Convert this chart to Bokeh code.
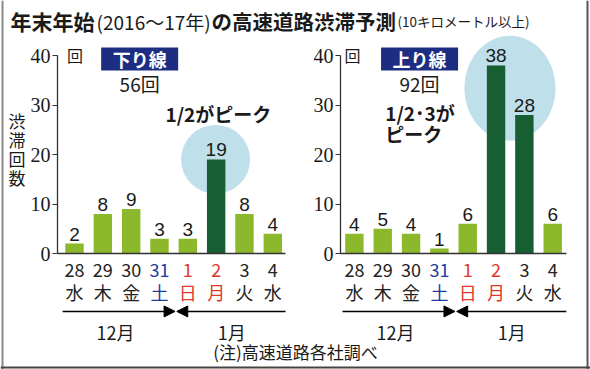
from bokeh.plotting import figure
from bokeh.models import Range1d, LinearAxis, FixedTicker, Arrow, NormalHead, Span
from bokeh.core.properties import value
from bokeh.embed import file_html
from bokeh.resources import INLINE
import numpy as np

# ---------------- data ----------------
dates = ["28", "29", "30", "31", "1", "2", "3", "4"]
weekdays = ["水", "木", "金", "土", "日", "月", "火", "水"]
day_kind = ["wd", "wd", "wd", "sat", "hol", "hol", "wd", "wd"]
months = ["12月", "1月"]
down_counts = [2, 8, 9, 3, 3, 19, 8, 4]
up_counts = [4, 5, 4, 1, 6, 38, 28, 6]
down_peak_dates = ["2"]
up_peak_dates = ["2", "3"]
y_ticks = [0, 10, 20, 30, 40]

# ---------------- styles ----------------
JP = "Noto Sans CJK JP"
NUM = "Liberation Sans Narrow"
LIGHT = "#8cb92b"
DARK = "#175e32"
NAVY = "#1c2d82"
CIRCLE = "#bfe0ea"
TXT = "#1a1a1a"
KIND_COLOR = {"wd": "#222222", "sat": "#1f3b9e", "hol": "#e0382d"}

X0, X1 = -74 / 28.33, (590 - 74) / 28.33
Y0, Y1 = -(369 - 253) / 4.95, 253 / 4.95

p = figure(width=590, height=369,
           x_range=Range1d(X0, X1), y_range=Range1d(Y0, Y1),
           x_axis_type=None, y_axis_type=None,
           toolbar_location=None, output_backend="svg", min_border=0)
p.outline_line_color = None
p.background_fill_color = "white"

# title pieces
title_y = 46.9
p.text(x=[-2.26], y=[title_y], text=["年末年始"], text_font=value(JP), text_font_style="bold",
       text_font_size="21px", text_baseline="middle", text_align="left", text_color=TXT)
p.text(x=[0.78], y=[title_y], text=["(2016～17年)"], text_font=value(JP),
       text_font_size="19px", text_baseline="middle", text_align="left", text_color=TXT)
p.text(x=[4.84], y=[title_y], text=["の高速道路渋滞予測"], text_font=value(JP), text_font_style="bold",
       text_font_size="20.5px", text_baseline="middle", text_align="left", text_color=TXT)
p.text(x=[11.40], y=[title_y], text=["(10キロメートル以上)"], text_font=value(JP),
       text_font_size="13.5px", text_baseline="middle", text_align="left", text_color=TXT)

panels = [
    dict(offset=0.0, counts=down_counts, peaks=down_peak_dates, name="下り線", axis_x=-0.6,
         ell=(4.98, 19.0, 69, 69), x_end=7.45, x_start=-0.42, unit_x=0.02),
    dict(offset=9.88, counts=up_counts, peaks=up_peak_dates, name="上り線", axis_x=9.39,
         ell=(15.37, 33.4, 91, 105), x_end=17.36, x_start=9.46, unit_x=9.81),
]

for pn in panels:
    off = pn["offset"]
    xs = np.arange(len(dates)) + off
    counts = pn["counts"]
    colors = [DARK if d in pn["peaks"] else LIGHT for d in dates]

    ex, ey, ew, eh = pn["ell"]
    p.ellipse(x=[ex], y=[ey], width=ew, height=eh, width_units="screen", height_units="screen",
              fill_color=CIRCLE, line_color=None)

    p.vbar(x=xs, top=counts, width=0.65, fill_color=colors, line_color=None)
    p.text(x=xs, y=counts, text=[str(c) for c in counts], text_align="center",
           text_baseline="bottom", y_offset=-3, text_font=value("Liberation Sans"),
           text_font_size="19px", text_color=TXT)

    # y axis
    ax = LinearAxis(fixed_location=pn["axis_x"], bounds=(0, 40), ticker=FixedTicker(ticks=y_ticks))
    ax.axis_line_color = "#333333"
    ax.axis_line_width = 1.3
    ax.major_tick_line_color = "#333333"
    ax.major_tick_out = 5
    ax.major_tick_in = 0
    ax.minor_tick_line_color = None
    ax.major_label_standoff = 2
    ax.major_label_text_font = NUM
    ax.major_label_text_font_size = "20px"
    ax.major_label_text_color = TXT
    p.add_layout(ax, "left")

    # x axis line
    bx = LinearAxis(fixed_location=0, bounds=(pn["axis_x"], pn["x_end"]), ticker=FixedTicker(ticks=[]))
    bx.axis_line_color = "#333333"
    bx.axis_line_width = 1.3
    bx.major_tick_line_color = None
    bx.minor_tick_line_color = None
    bx.major_label_text_font_size = "0px"
    p.add_layout(bx, "below")

    # unit label
    p.text(x=[pn["unit_x"]], y=[40.1], text=["回"], text_font=value(JP),
           text_font_size="16px", text_align="center", text_baseline="middle", text_color=TXT)

    # header box
    hx = off + 2.3
    p.rect(x=[hx], y=[39.3], width=77, height=23, width_units="screen", height_units="screen",
           fill_color=NAVY, line_color=None)
    p.text(x=[hx], y=[39.3], text=[pn["name"]], text_font=value(JP), text_font_style="bold",
           text_font_size="18px", text_align="center", text_baseline="middle", text_color="white")
    p.text(x=[hx], y=[34.3], text=[f"{sum(counts)}回"], text_font=value(JP),
           text_font_size="19px", text_align="center", text_baseline="middle", text_color=TXT)

    # date labels
    p.text(x=xs, y=[-3.4] * len(xs), text=dates, text_color=[KIND_COLOR[k] for k in day_kind],
           text_font=value(JP), text_font_size="18px", text_align="center", text_baseline="middle")
    p.text(x=xs, y=[-7.7] * len(xs), text=weekdays, text_color=[KIND_COLOR[k] for k in day_kind],
           text_font=value(JP), text_font_size="18px", text_align="center", text_baseline="middle")

    # month arrows
    mid = off + 3.58
    p.add_layout(Arrow(end=NormalHead(size=11, fill_color="black", line_color="black"),
                       x_start=pn["x_start"], y_start=-11.7, x_end=mid - 0.03, y_end=-11.7,
                       line_width=1.5, line_color="black"))
    p.add_layout(Arrow(end=NormalHead(size=11, fill_color="black", line_color="black"),
                       x_start=pn["x_end"], y_start=-11.7, x_end=mid + 0.03, y_end=-11.7,
                       line_width=1.5, line_color="black"))
    p.text(x=[off + 1.45, off + 5.55], y=[-15.8, -15.8], text=months, text_font=value(JP),
           text_font_size="18px", text_align="center", text_baseline="middle", text_color=TXT)

# callouts
p.text(x=[5.08], y=[28.2], text=["1/2がピーク"], text_font=value(JP), text_font_style="bold",
       text_font_size="19px", text_align="center", text_baseline="middle", text_color=TXT)
p.text(x=[9.88 + 1.09], y=[26.4], text=["1/2･3が\nピーク"], text_font=value(JP), text_font_style="bold",
       text_font_size="19px", text_align="left", text_baseline="middle", text_color=TXT,
       text_line_height=0.8)

# y label
p.text(x=[-2.03], y=[21.1], text=["渋\n滞\n回\n数"], text_font=value(JP),
       text_font_size="17px", text_align="center", text_baseline="middle", text_color=TXT,
       text_line_height=0.77)

# footnote
p.text(x=[7.8], y=[-19.7], text=["(注)高速道路各社調べ"], text_font=value(JP),
       text_font_size="17px", text_align="center", text_baseline="middle", text_color=TXT)

# frame
p.add_layout(Span(location=(2 - 74) / 28.33, dimension="height", line_color="#8a8a8a", line_width=2))
p.add_layout(Span(location=(587 - 74) / 28.33, dimension="height", line_color="#555555", line_width=2))
p.add_layout(Span(location=(253 - 367) / 4.95, dimension="width", line_color="#444444", line_width=2))

open("out.html", "w").write(file_html(p, INLINE))
